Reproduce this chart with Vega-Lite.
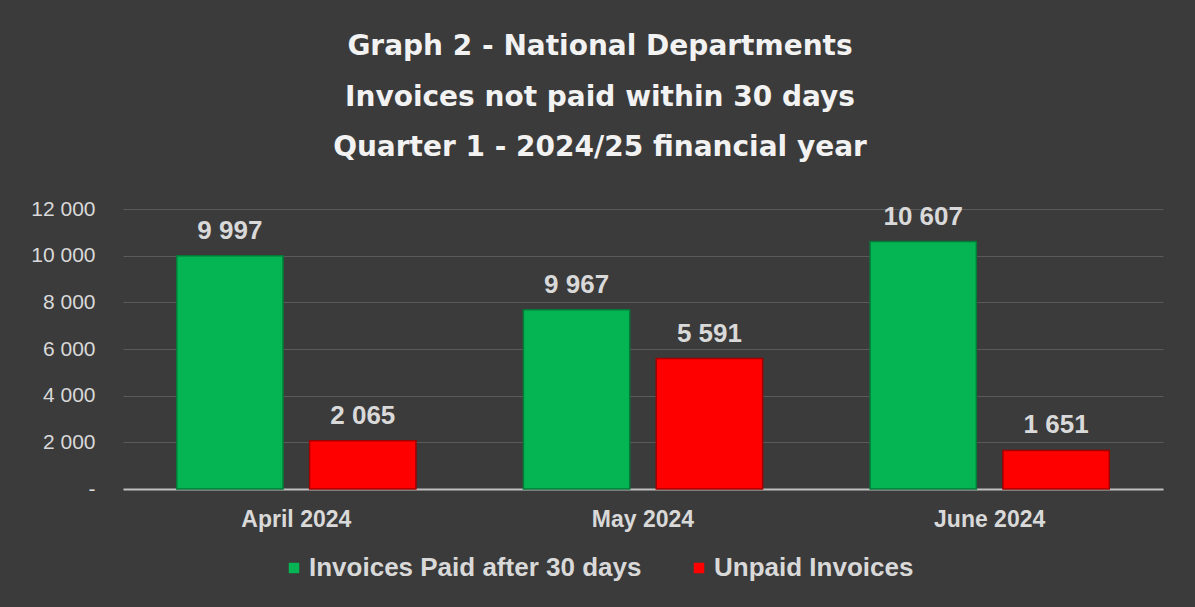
{
  "$schema": "https://vega.github.io/schema/vega-lite/v6.json",
  "width": 1040,
  "height": 280,
  "autosize": {"type": "none"},
  "padding": {"left": 123, "top": 209, "right": 32, "bottom": 118},
  "background": "#3b3b3b",
  "config": {"view": {"stroke": null}},
  "title": {
    "text": ["Graph 2 - National Departments", "Invoices not paid within 30 days", "Quarter 1 - 2024/25 financial year"],
    "font": "DejaVu Sans",
    "fontSize": 28,
    "fontWeight": "bold",
    "color": "#f2f2f2",
    "lineHeight": 50.5,
    "anchor": "middle",
    "dx": -43,
    "offset": 36
  },
  "data": {
    "values": [
      {"month": "April 2024", "series": "Invoices Paid after 30 days", "value": 9997, "label": "9 997"},
      {"month": "April 2024", "series": "Unpaid Invoices", "value": 2065, "label": "2 065"},
      {"month": "May 2024", "series": "Invoices Paid after 30 days", "value": 7680, "label": "9 967"},
      {"month": "May 2024", "series": "Unpaid Invoices", "value": 5591, "label": "5 591"},
      {"month": "June 2024", "series": "Invoices Paid after 30 days", "value": 10607, "label": "10 607"},
      {"month": "June 2024", "series": "Unpaid Invoices", "value": 1651, "label": "1 651"}
    ]
  },
  "encoding": {
    "x": {
      "field": "month",
      "type": "nominal",
      "sort": ["April 2024", "May 2024", "June 2024"],
      "scale": {"paddingInner": 0.31, "paddingOuter": 0.155},
      "axis": {
        "title": null,
        "labelAngle": 0,
        "labelFont": "Liberation Sans",
        "labelFontWeight": "bold",
        "labelFontSize": 23,
        "labelColor": "#d9d9d9",
        "ticks": false,
        "domainColor": "#bfbfbf",
        "domainWidth": 2,
        "labelPadding": 19,
        "grid": false
      }
    },
    "xOffset": {
      "field": "series",
      "type": "nominal",
      "sort": ["Invoices Paid after 30 days", "Unpaid Invoices"],
      "scale": {"paddingInner": 0.2, "paddingOuter": 0}
    },
    "y": {
      "field": "value",
      "type": "quantitative",
      "scale": {"domain": [0, 12000], "nice": false},
      "axis": {
        "title": null,
        "values": [0, 2000, 4000, 6000, 8000, 10000, 12000],
        "labelExpr": "datum.value == 0 ? '-' : replace(format(datum.value, ','), ',', ' ')",
        "labelFont": "Liberation Sans",
        "labelFontSize": 21,
        "labelColor": "#d9d9d9",
        "gridColor": "#5a5a5a",
        "gridWidth": 1.2,
        "domain": false,
        "ticks": false,
        "labelPadding": 28
      }
    }
  },
  "layer": [
    {
      "mark": {"type": "bar", "strokeWidth": 1.5},
      "encoding": {
        "color": {
          "field": "series",
          "type": "nominal",
          "sort": ["Invoices Paid after 30 days", "Unpaid Invoices"],
          "scale": {"range": ["#05b553", "#ff0000"]},
          "legend": {
            "title": null,
            "orient": "none",
            "direction": "horizontal",
            "legendX": 158,
            "legendY": 346,
            "symbolType": "square",
            "symbolSize": 110,
            "symbolStrokeWidth": 0,
            "labelFont": "Liberation Sans",
            "labelFontWeight": "bold",
            "labelFontSize": 26,
            "labelColor": "#d9d9d9",
            "labelOffset": 2,
            "columnPadding": 44,
            "labelLimit": 500
          }
        },
        "stroke": {
          "field": "series",
          "type": "nominal",
          "sort": ["Invoices Paid after 30 days", "Unpaid Invoices"],
          "scale": {"range": ["#037a38", "#a30000"]},
          "legend": null
        }
      }
    },
    {
      "mark": {
        "type": "text",
        "baseline": "alphabetic",
        "dy": -17,
        "font": "Liberation Sans",
        "fontWeight": "bold",
        "fontSize": 26,
        "color": "#d9d9d9"
      },
      "encoding": {
        "text": {"field": "label"}
      }
    }
  ]
}
